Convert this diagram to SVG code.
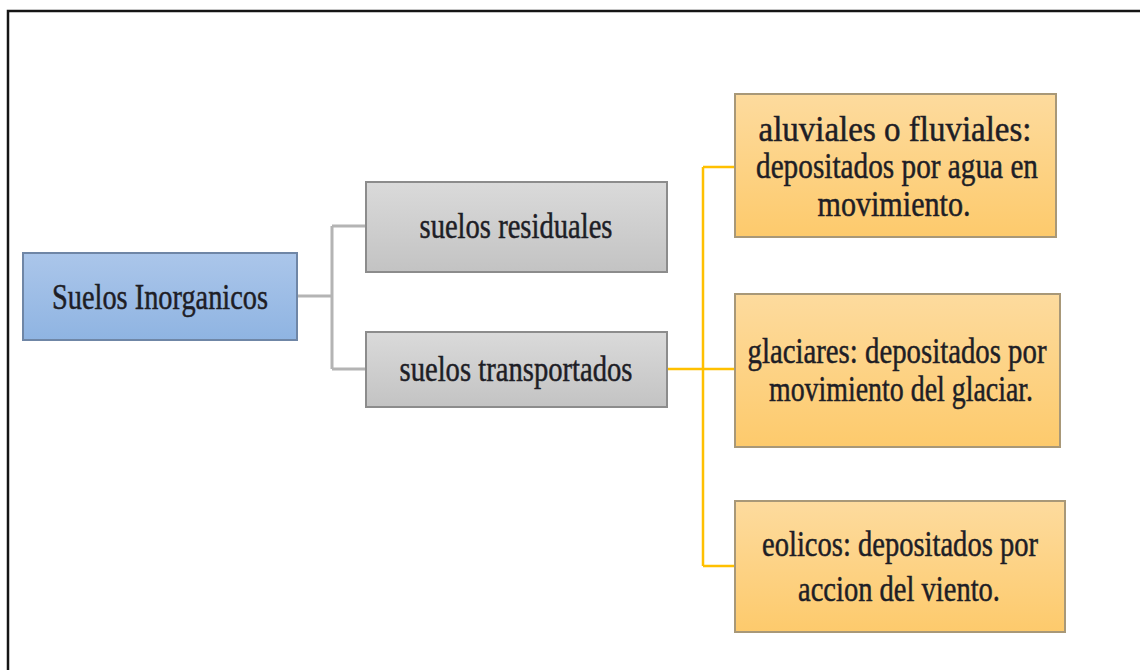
<svg xmlns="http://www.w3.org/2000/svg" width="1140" height="670" viewBox="0 0 1140 670">
<style>
.t{font-family:"Liberation Serif","Times New Roman",serif;font-size:36px;fill:#1e1e26;stroke:#1e1e26;stroke-width:0.5;text-anchor:middle}
.gc{fill:none;stroke:#b4b4b4;stroke-width:3}
.oc{fill:none;stroke:#ffc000;stroke-width:2.5}
.blue{fill:url(#gb);stroke:#6f86a6;stroke-width:2}
.gray{fill:url(#gg);stroke:#8c8c8c;stroke-width:2}
.orng{fill:url(#go);stroke:#a89878;stroke-width:2}
</style>
<defs>
<linearGradient id="gb" x1="0" y1="0" x2="0" y2="1"><stop offset="0" stop-color="#abc6ea"/><stop offset="1" stop-color="#8fb4e2"/></linearGradient>
<linearGradient id="gg" x1="0" y1="0" x2="0" y2="1"><stop offset="0" stop-color="#dadada"/><stop offset="1" stop-color="#c3c3c3"/></linearGradient>
<linearGradient id="go" x1="0" y1="0" x2="0" y2="1"><stop offset="0" stop-color="#fddb9e"/><stop offset="1" stop-color="#fdca6c"/></linearGradient>
</defs>
<rect width="1140" height="670" fill="#ffffff"/>
<rect x="8" y="11" width="1150" height="680" fill="none" stroke="#151515" stroke-width="2.5"/>
<g id="connectors">
<path class="gc" d="M297,296 H332 M332,226 V369 M332,226 H366 M332,369 H366"/>
<path class="oc" d="M667,369 H735 M703,167 V566 M703,167 H735 M703,566 H735"/>
</g>
<g id="root">
<rect class="blue" x="23" y="253" width="274" height="87"/>
<text class="t" x="160" y="309" textLength="216" lengthAdjust="spacingAndGlyphs">Suelos Inorganicos</text>
</g>
<g id="residuales">
<rect class="gray" x="366" y="182" width="301" height="90"/>
<text class="t" x="516" y="238" textLength="193" lengthAdjust="spacingAndGlyphs">suelos residuales</text>
</g>
<g id="transportados">
<rect class="gray" x="366" y="332" width="301" height="75"/>
<text class="t" x="516" y="381" textLength="233" lengthAdjust="spacingAndGlyphs">suelos transportados</text>
</g>
<g id="aluviales">
<rect class="orng" x="735" y="94" width="321" height="143"/>
<text class="t" x="895" y="141" textLength="273" lengthAdjust="spacingAndGlyphs">aluviales o fluviales:</text>
<text class="t" x="897" y="178" textLength="282" lengthAdjust="spacingAndGlyphs">depositados por agua en</text>
<text class="t" x="894" y="216" textLength="153" lengthAdjust="spacingAndGlyphs">movimiento.</text>
</g>
<g id="glaciares">
<rect class="orng" x="735" y="294" width="325" height="153"/>
<text class="t" x="897" y="363" textLength="299" lengthAdjust="spacingAndGlyphs">glaciares: depositados por</text>
<text class="t" x="901" y="401" textLength="264" lengthAdjust="spacingAndGlyphs">movimiento del glaciar.</text>
</g>
<g id="eolicos">
<rect class="orng" x="735" y="501" width="330" height="131"/>
<text class="t" x="900" y="556" textLength="276" lengthAdjust="spacingAndGlyphs">eolicos: depositados por</text>
<text class="t" x="899" y="601" textLength="202" lengthAdjust="spacingAndGlyphs">accion del viento.</text>
</g>
</svg>
